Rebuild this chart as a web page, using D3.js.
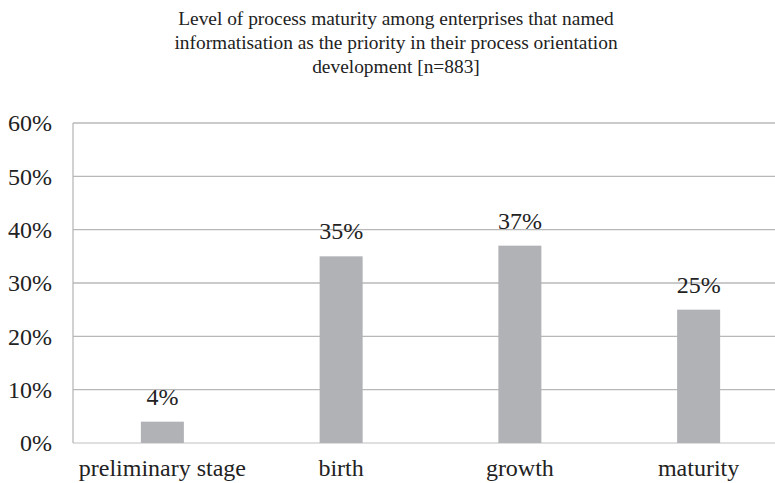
<!DOCTYPE html>
<html><head><meta charset="utf-8">
<script src="https://cdn.jsdelivr.net/npm/d3@7"></script>
<style>body{margin:0;background:#fff}svg{display:block}</style>
</head><body>
<script>
const categories = ["preliminary stage", "birth", "growth", "maturity"];
const values = [4, 35, 37, 25];
const yTicks = [0, 10, 20, 30, 40, 50, 60];
const titleLines = ["Level of process maturity among enterprises that named",
  "informatisation as the priority in their process orientation",
  "development [n=883]"];

const W = 775, H = 483;
const font = "Liberation Serif";
const svg = d3.select("body").append("svg").attr("width", W).attr("height", H);

const x = d3.scaleBand().domain(categories).range([73, 788]).padding(0);
const y = d3.scaleLinear().domain([0, 60]).range([443, 123]);

svg.append("g").selectAll("text").data(titleLines).join("text")
  .attr("x", 396).attr("y", (d, i) => 25 + i * 24)
  .attr("text-anchor", "middle").style("font-family", font).style("font-size", "19.4px")
  .attr("fill", "#222").text(d => d);

svg.append("g").selectAll("line").data(yTicks).join("line")
  .attr("x1", 73).attr("x2", 788).attr("y1", d => y(d)).attr("y2", d => y(d))
  .attr("stroke", d => d === 0 ? "#d4d4d4" : "#b8b8b8").attr("stroke-width", 1.3);

svg.append("line").attr("x1", 73).attr("x2", 73).attr("y1", y(60)).attr("y2", y(0))
  .attr("stroke", "#b8b8b8").attr("stroke-width", 1.3);

svg.append("g").selectAll("text").data(yTicks).join("text")
  .attr("x", 52).attr("y", d => y(d)).attr("dy", "0.35em")
  .attr("text-anchor", "end").style("font-family", font).style("font-size", "24px")
  .attr("fill", "#222").text(d => d + "%");

const bw = 43;
svg.append("g").selectAll("rect").data(values).join("rect")
  .attr("x", (d, i) => x(categories[i]) + x.bandwidth() / 2 - bw / 2)
  .attr("width", bw)
  .attr("y", d => y(d)).attr("height", d => y(0) - y(d))
  .attr("fill", "#b1b2b6");

svg.append("g").selectAll("text").data(values).join("text")
  .attr("x", (d, i) => x(categories[i]) + x.bandwidth() / 2)
  .attr("y", d => y(d) - 17)
  .attr("text-anchor", "middle").style("font-family", font).style("font-size", "24px")
  .attr("fill", "#222").text(d => d + "%");

svg.append("g").selectAll("text").data(categories).join("text")
  .attr("x", d => x(d) + x.bandwidth() / 2).attr("y", 476)
  .attr("text-anchor", "middle").style("font-family", font).style("font-size", "24px")
  .attr("fill", "#222").text(d => d);
</script>
</body></html>
